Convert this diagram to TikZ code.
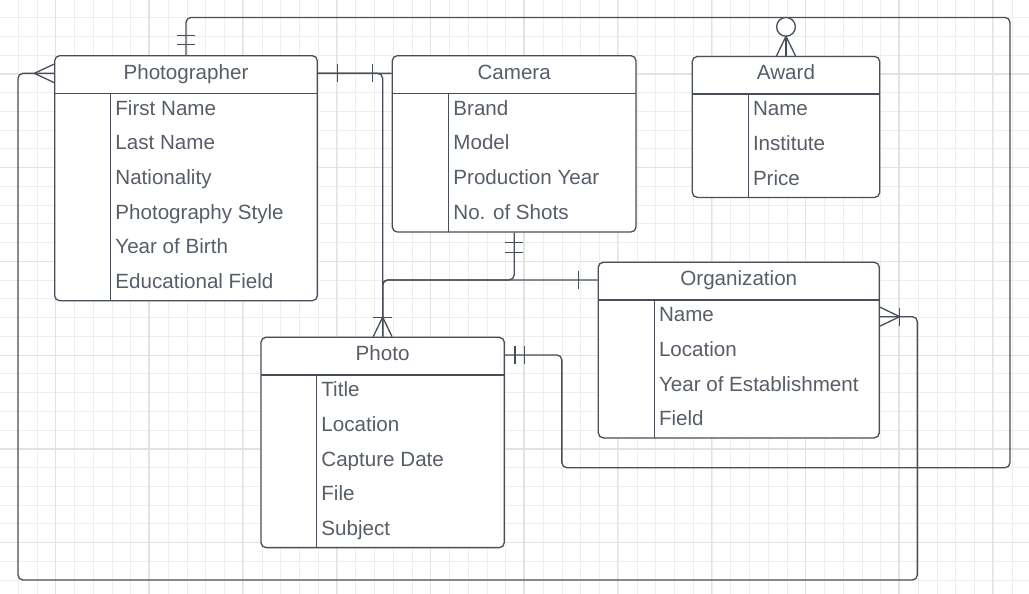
\documentclass[tikz,border=0pt]{standalone}
\usepackage{fontspec}
\setmainfont{Liberation Sans}
\definecolor{lineclr}{HTML}{474E58}
\definecolor{txtclr}{HTML}{575E68}
\definecolor{gridclr}{HTML}{EEEEEE}
\definecolor{gridmaj}{HTML}{E2E2E2}

\begin{document}
\begin{tikzpicture}[x=1pt,y=-1pt,
    ent/.style={draw=lineclr,line width=1.3pt,rounded corners=5pt,fill=white},
    conn/.style={draw=lineclr,line width=1.3pt,rounded corners=5pt},
    erline/.style={draw=lineclr,line width=1.3pt},
    head/.style={anchor=base,inner sep=0pt,text=txtclr,font=\fontsize{20.6}{24}\selectfont},
    attr/.style={head,anchor=base west},
    gridthin/.style={draw=gridclr,line width=1pt},
    gridthick/.style={draw=gridmaj,line width=1.4pt}]
  \useasboundingbox (0,0) rectangle (1029,594);
  \fill[white] (0,0) rectangle (1029,594);
  \foreach \i in {0,...,54}
    \draw[gridthin] ({18.25+18.75*\i},0) -- ++(0,594);
  \foreach \i in {0,...,31}
    \draw[gridthin] (0,{17.7+18.75*\i}) -- ++(1029,0);
  \foreach \i in {0,...,10}
    \draw[gridthick] ({55.25+93.75*\i},0) -- ++(0,594);
  \foreach \i in {1,...,6}
    \draw[gridthick] (0,{-19.8+93.75*\i}) -- ++(1029,0);

  \node[ent,minimum width=262.6pt,minimum height=245pt] (pg) at (186,178.2) {};
  \node[head] (pg-t) at (186,79.2) {Photographer};
  \draw[erline] (54.7,93.3) -- (317.3,93.3) (110.7,93.3) -- (110.7,300.7);
  \foreach \a [count=\i] in {First Name,Last Name,Nationality,Photography Style,Year of Birth,Educational Field}
    \node[attr] (pg-\i) at (115.2,{80.4+34.7*\i}) {\a};

  \node[ent,minimum width=243.7pt,minimum height=176.3pt] (cam) at (514.15,143.85) {};
  \node[head] (cam-t) at (514.15,79.2) {Camera};
  \draw[erline] (392.3,93.3) -- (636,93.3) (448.7,93.3) -- (448.7,232);
  \foreach \a [count=\i] in {Brand,Model,Production Year,No. of Shots}
    \node[attr] (cam-\i) at (453.2,{80.4+34.7*\i}) {\a};

  \node[ent,minimum width=187.4pt,minimum height=140.9pt] (aw) at (786,126.95) {};
  \node[head] (aw-t) at (786,80) {Award};
  \draw[erline] (692.3,94.1) -- (879.7,94.1) (748.3,94.1) -- (748.3,197.4);
  \foreach \a [count=\i] in {Name,Institute,Price}
    \node[attr] (aw-\i) at (752.8,{81.2+34.7*\i}) {\a};

  \node[ent,minimum width=281pt,minimum height=175.6pt] (org) at (738.8,350.1) {};
  \node[head] (org-t) at (738.8,285.8) {Organization};
  \draw[erline] (598.3,299.9) -- (879.3,299.9) (654.3,299.9) -- (654.3,437.9);
  \foreach \a [count=\i] in {Name,Location,Year of Establishment,Field}
    \node[attr] (org-\i) at (658.8,{287+34.7*\i}) {\a};

  \node[ent,minimum width=243.3pt,minimum height=210.3pt] (ph) at (382.65,442.45) {};
  \node[head] (ph-t) at (382.65,360.8) {Photo};
  \draw[erline] (261,374.9) -- (504.3,374.9) (316.7,374.9) -- (316.7,547.6);
  \foreach \a [count=\i] in {Title,Location,Capture Date,File,Subject}
    \node[attr] (ph-\i) at (321.2,{362+34.7*\i}) {\a};

  \coordinate (pgE) at ([yshift=-18.3pt]pg.north east);
  \coordinate (pgW) at ([yshift=-18.3pt]pg.north west);
  \coordinate (camW) at ([yshift=-18.3pt]cam.north west);
  \coordinate (orgW) at ([yshift=-18.3pt]org.north west);
  \coordinate (orgE) at ([yshift=-55pt]org.north east);
  \coordinate (phE) at ([yshift=-18.3pt]ph.north east);
  \coordinate (awTop) at ([yshift=38.4pt]aw.north);

  \draw[conn] (pg.north) |- (awTop);
  \draw[conn] (awTop) -| (1010,467.7) -| ([xshift=56.9pt]phE) -- (phE);
  \draw[conn] (pgE) -- (camW);
  \draw[conn] (pgE) -| (ph.north);
  \draw[conn] (cam.south) -- (cam.south |- orgW) -| (ph.north);
  \draw[conn] (orgW) -| (ph.north);
  \draw[conn] (pgW) -| (18,580) -| ([xshift=37.4pt]orgE) -- (orgE);

  \draw[erline] (pg.north) ++(-9.3,-10.4) -- ++(18.6,0);
  \draw[erline] (pg.north) ++(-9.3,-19.7) -- ++(18.6,0);
  \draw[erline,fill=white] (aw.north) ++(0,-29) circle[radius=9.4];
  \draw[erline] (aw.north) ++(-9.5,0) -- ++(9.5,-19.5) -- ++(9.5,19.5);
  \draw[erline] (aw.north) -- ++(0,-19.5);
  \draw[erline] (phE) ++(10,-9.3) -- ++(0,18.6);
  \draw[erline] (phE) ++(19.7,-9.3) -- ++(0,18.6);
  \draw[erline] (pgE) ++(19.7,-9) -- ++(0,18);
  \draw[erline] (camW) ++(-19.5,-9) -- ++(0,18);
  \draw[erline] (ph.north) ++(-9.4,0) -- ++(9.4,-19.5) -- ++(9.4,19.5);
  \draw[erline] (ph.north) ++(-9.4,-19.5) -- ++(18.8,0);
  \draw[erline] (cam.south) ++(-9,9.7) -- ++(18,0);
  \draw[erline] (cam.south) ++(-9,19.7) -- ++(18,0);
  \draw[erline] (orgW) ++(-19,-9.3) -- ++(0,18.6);
  \draw[erline] (pgW) ++(0,-9.2) -- ++(-19.7,9.2) -- ++(19.7,9.2);
  \draw[erline] (orgE) ++(0,-9.5) -- ++(19.7,9.5) -- ++(-19.7,9.5);
  \draw[erline] (orgE) ++(19.7,-9) -- ++(0,18);
\end{tikzpicture}
\end{document}
